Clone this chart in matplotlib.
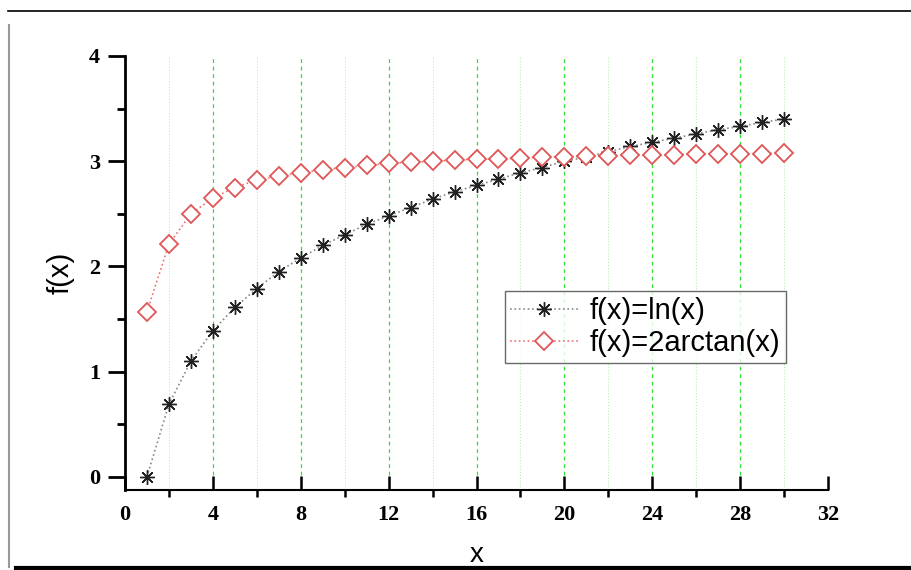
import matplotlib.pyplot as plt
from matplotlib.lines import Line2D
from matplotlib.ticker import MultipleLocator

# values
x_vals = list(range(1, 31))
ln_vals = [0.00, 0.69, 1.10, 1.39, 1.61, 1.79, 1.95, 2.08, 2.20, 2.30,
           2.40, 2.48, 2.56, 2.64, 2.71, 2.77, 2.83, 2.89, 2.94, 3.00,
           3.04, 3.09, 3.14, 3.18, 3.22, 3.26, 3.30, 3.33, 3.37, 3.40]
atan_vals = [1.57, 2.21, 2.50, 2.65, 2.75, 2.82, 2.86, 2.89, 2.92, 2.94,
             2.96, 2.98, 2.99, 3.00, 3.01, 3.02, 3.02, 3.03, 3.04, 3.04,
             3.05, 3.05, 3.06, 3.06, 3.06, 3.07, 3.07, 3.07, 3.07, 3.08]
labels = ['f(x)=ln(x)', 'f(x)=2arctan(x)']

# tick labels: bold serif
plt.rcParams['font.family'] = 'Liberation Serif'
plt.rcParams['font.weight'] = 'bold'
plt.rcParams['xtick.labelsize'] = 16
plt.rcParams['ytick.labelsize'] = 16

fig = plt.figure(figsize=(9.12, 5.7), dpi=100)
ax = fig.add_axes([0.137, 0.1404, 0.771, 0.7614])

# outer frame
fig.add_artist(Line2D([0.009, 1.0], [0.981, 0.981], color='black', lw=1.2, transform=fig.transFigure))
fig.add_artist(Line2D([0.010, 0.010], [0.005, 0.957], color='#999999', lw=1.5, transform=fig.transFigure))
fig.add_artist(Line2D([0.018, 1.0], [0.003, 0.003], color='black', lw=3, transform=fig.transFigure))

# grid lines
for gx in range(2, 32, 2):
    if gx % 4 == 0:
        ax.axvline(gx, color='#33dd33', lw=0.9, ls=(0, (3, 3)), zorder=0)
    else:
        ax.axvline(gx, color='#aaeeaa', lw=0.7, ls=(0, (1, 2)), zorder=0)

ax.plot(x_vals, ln_vals, color='#888888', ls=':', lw=1.2, marker=(8, 2, 0),
        markersize=10.5, markeredgecolor='#222222', markeredgewidth=1.0, label=labels[0])
ax.plot(x_vals, atan_vals, color='#f07070', ls=':', lw=1.2, marker='D',
        markersize=9, markerfacecolor='white', markeredgecolor='#e05555',
        markeredgewidth=1.3, label=labels[1])

ax.set_xlim(0, 32)
ax.set_ylim(-0.124, 4)
ax.spines['top'].set_visible(False)
ax.spines['right'].set_visible(False)
ax.spines['left'].set_linewidth(2)
ax.spines['bottom'].set_linewidth(1.5)

ax.xaxis.set_major_locator(MultipleLocator(4))
ax.xaxis.set_minor_locator(MultipleLocator(2))
ax.yaxis.set_major_locator(MultipleLocator(1))
ax.yaxis.set_minor_locator(MultipleLocator(0.5))
ax.tick_params(axis='x', which='major', direction='in', length=10, width=1.8, pad=11)
ax.tick_params(axis='x', which='minor', direction='out', length=5, width=1.8)
ax.tick_params(axis='y', which='major', direction='out', length=12, width=2, pad=6)
ax.tick_params(axis='y', which='minor', direction='out', length=6, width=2)

ax.set_ylabel('f(x)', fontsize=21, fontfamily='Liberation Sans', fontweight='normal', labelpad=10)
ax.set_xlabel('x', fontsize=20, fontfamily='Liberation Sans', fontweight='normal', labelpad=12)

leg = ax.legend(loc='upper left', bbox_to_anchor=(0.54, 0.4585),
                prop={'family': 'Liberation Sans', 'size': 21, 'weight': 'normal'},
                frameon=True, fancybox=False, edgecolor='#444444',
                handlelength=2.3, handletextpad=0.4, borderpad=0.2,
                labelspacing=0.15, borderaxespad=0)
leg.get_frame().set_linewidth(1.0)

fig.savefig('out.png', dpi=100)
